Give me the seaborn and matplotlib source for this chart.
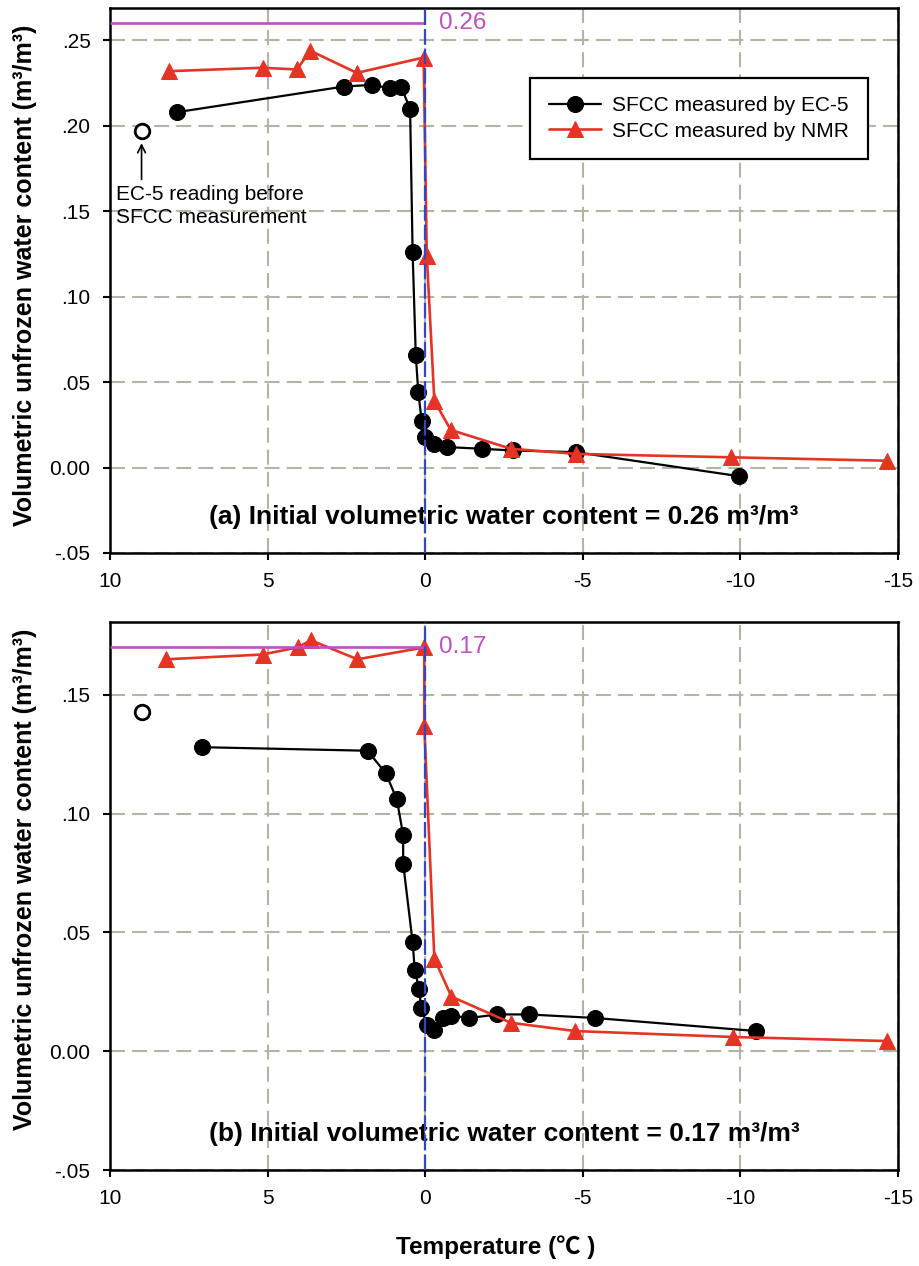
import matplotlib
matplotlib.use("Agg")
import matplotlib.pyplot as plt
import seaborn as sns

# ---- Panel (a): initial volumetric water content 0.26 ----
a_ec5_temp = [7.88, 2.59, 1.69, 1.11, 0.77, 0.48, 0.40, 0.30, 0.22, 0.11, 0.00,
              -0.29, -0.69, -1.79, -2.77, -4.78, -9.94]
a_ec5_vwc = [0.208, 0.223, 0.224, 0.222, 0.223, 0.210, 0.126, 0.066, 0.044, 0.027, 0.018,
             0.014, 0.012, 0.011, 0.010, 0.009, -0.005]
a_nmr_temp = [8.14, 5.16, 4.07, 3.65, 2.17, 0.05, -0.05, -0.29, -0.81, -2.72, -4.78, -9.70, -14.64]
a_nmr_vwc = [0.232, 0.234, 0.233, 0.244, 0.231, 0.240, 0.124, 0.039, 0.022, 0.011, 0.008, 0.006, 0.004]
a_before_temp = [9.0]
a_before_vwc = [0.197]
a_theta0 = 0.26

# ---- Panel (b): initial volumetric water content 0.17 ----
b_ec5_temp = [7.09, 1.83, 1.25, 0.90, 0.70, 0.70, 0.40, 0.33, 0.19, 0.13, -0.07, -0.29,
              -0.55, -0.83, -1.40, -2.29, -3.28, -5.39, -10.51]
b_ec5_vwc = [0.128, 0.1265, 0.117, 0.106, 0.091, 0.079, 0.046, 0.034, 0.026, 0.018, 0.011, 0.009,
             0.014, 0.015, 0.014, 0.0155, 0.0155, 0.014, 0.0085]
b_nmr_temp = [8.21, 5.16, 4.05, 3.63, 2.15, 0.03, 0.03, -0.29, -0.83, -2.71, -4.76, -9.77, -14.66]
b_nmr_vwc = [0.165, 0.167, 0.170, 0.173, 0.165, 0.170, 0.137, 0.039, 0.023, 0.012, 0.0085, 0.006, 0.0043]
b_before_temp = [9.0]
b_before_vwc = [0.143]
b_theta0 = 0.17

# ---- Axis ticks and labels ----
x_ticks = [10, 5, 0, -5, -10, -15]
x_tick_labels = ["10", "5", "0", "-5", "-10", "-15"]
a_y_ticks = [-0.05, 0.00, 0.05, 0.10, 0.15, 0.20, 0.25]
a_y_tick_labels = ["-.05", "0.00", ".05", ".10", ".15", ".20", ".25"]
b_y_ticks = [-0.05, 0.00, 0.05, 0.10, 0.15]
b_y_tick_labels = ["-.05", "0.00", ".05", ".10", ".15"]

label_ec5 = "SFCC measured by EC-5"
label_nmr = "SFCC measured by NMR"
y_label = "Volumetric unfrozen water content (m³/m³)"
x_label = "Temperature (℃ )"
caption_a = "(a) Initial volumetric water content = 0.26 m³/m³"
caption_b = "(b) Initial volumetric water content = 0.17 m³/m³"
note_text = "EC-5 reading before\nSFCC measurement"

sns.set_style("ticks")
plt.rcParams["font.family"] = ["Liberation Sans", "DejaVu Sans"]
plt.rcParams.update({
    "text.color": "black",
    "axes.labelcolor": "black",
    "xtick.color": "black",
    "ytick.color": "black",
    "xtick.labelcolor": "black",
    "ytick.labelcolor": "black",
})

BLACK = "#000000"
RED = "#e53325"
MAGENTA = "#c04fc0"
BLUE = "#3346c4"
GRID = "#b4b4a4"

fig = plt.figure(figsize=(9.2, 12.66), dpi=100)
ax_a = fig.add_axes([0.1196, 0.5632, 0.8565, 0.4305])
ax_b = fig.add_axes([0.1196, 0.0758, 0.8565, 0.4329])


def draw_panel(ax, ec5_t, ec5_v, nmr_t, nmr_v, before_t, before_v, theta0,
               yticks, yticklabels, ylim, caption, legend=False):
    sns.lineplot(x=ec5_t, y=ec5_v, ax=ax, sort=False, estimator=None,
                 color=BLACK, linewidth=1.6, marker="o", markersize=11.5,
                 markeredgecolor=BLACK, markerfacecolor=BLACK, label=label_ec5, zorder=3)
    sns.lineplot(x=nmr_t, y=nmr_v, ax=ax, sort=False, estimator=None,
                 color=RED, linewidth=1.9, marker="^", markersize=12,
                 markeredgecolor=RED, markerfacecolor=RED, label=label_nmr, zorder=3)
    sns.scatterplot(x=before_t, y=before_v, ax=ax, marker="o", s=110,
                    facecolor="white", edgecolor=BLACK, linewidth=2, zorder=4)

    # initial water content reference and freezing point
    ax.hlines(theta0, 0, 10, color=MAGENTA, linewidth=1.9, zorder=4)
    ax.annotate(f"{theta0:.2f}", xy=(0, theta0), xytext=(10, 0),
                textcoords="offset points", color=MAGENTA, fontsize=17.5,
                va="center", ha="left")
    ax.axvline(0, color=BLUE, linewidth=1.6, linestyle=(0, (7, 1.8)), zorder=5)

    ax.set_xlim(10, -15)
    ax.set_ylim(*ylim)
    ax.set_xticks(x_ticks)
    ax.set_xticklabels(x_tick_labels)
    ax.set_yticks(yticks)
    ax.set_yticklabels(yticklabels)
    ax.tick_params(axis="both", labelsize=15, direction="out", length=5, width=1.5,
                   color=BLACK, labelcolor=BLACK, pad=9)
    ax.grid(True, color=GRID, linestyle=(0, (7.2, 3.4)), linewidth=1.5)
    ax.set_axisbelow(True)
    for sp in ax.spines.values():
        sp.set_linewidth(1.8)
        sp.set_color(BLACK)
        sp.set_visible(True)

    ax.set_ylabel(y_label, fontsize=18, fontweight="bold", color=BLACK)
    ax.set_xlabel("")
    ax.text(0.5, 0.066, caption, transform=ax.transAxes, ha="center", va="center",
            fontsize=19, fontweight="bold", color=BLACK)

    if legend:
        leg = ax.legend(loc="upper right", bbox_to_anchor=(0.962, 0.872), fontsize=15,
                        frameon=True, fancybox=False, framealpha=1, edgecolor=BLACK,
                        handlelength=2.5, handletextpad=0.55, borderpad=0.9,
                        labelspacing=0.3, borderaxespad=0)
        leg.get_frame().set_linewidth(1.6)
        for t in leg.get_texts():
            t.set_color(BLACK)
    else:
        lg = ax.get_legend()
        if lg is not None:
            lg.remove()


draw_panel(ax_a, a_ec5_temp, a_ec5_vwc, a_nmr_temp, a_nmr_vwc, a_before_temp, a_before_vwc,
           a_theta0, a_y_ticks, a_y_tick_labels, (-0.05, 0.269), caption_a, legend=True)
draw_panel(ax_b, b_ec5_temp, b_ec5_vwc, b_nmr_temp, b_nmr_vwc, b_before_temp, b_before_vwc,
           b_theta0, b_y_ticks, b_y_tick_labels, (-0.05, 0.1807), caption_b, legend=False)

ax_a.yaxis.set_label_coords(-0.093, 0.51)
ax_b.yaxis.set_label_coords(-0.093, 0.53)

# note for the pre-measurement EC-5 reading
ax_a.annotate("", xy=(a_before_temp[0], 0.1915), xytext=(a_before_temp[0], 0.167),
              arrowprops=dict(arrowstyle="->", color=BLACK, lw=1.2, mutation_scale=14))
ax_a.text(9.8, 0.1655, note_text, ha="left", va="top", fontsize=15, linespacing=1.25,
          color=BLACK)

ax_b.set_xlabel(x_label, fontsize=17.5, fontweight="bold", color=BLACK,
                family=["Liberation Sans", "Noto Sans CJK SC"])
ax_b.xaxis.set_label_coords(0.49, -0.119)

fig.savefig("out.png", dpi=100)
